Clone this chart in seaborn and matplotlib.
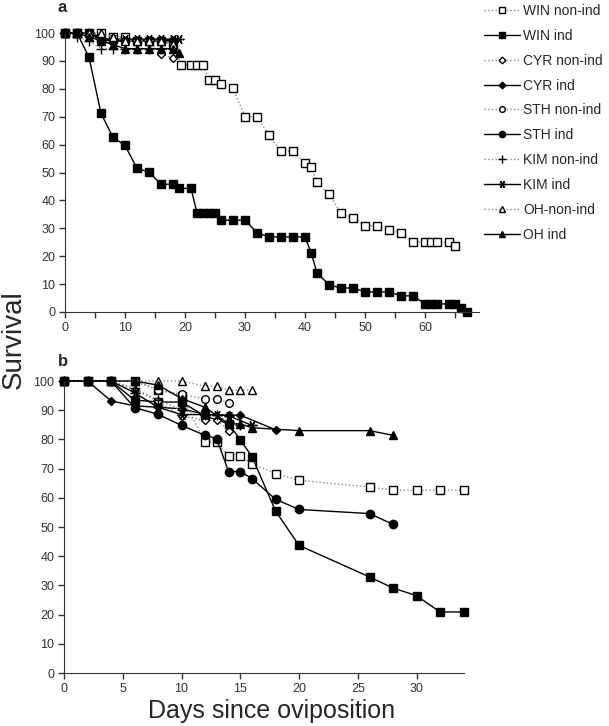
import numpy as np
import pandas as pd
import seaborn as sns
import matplotlib.pyplot as plt
from matplotlib.ticker import MultipleLocator

# ---- panel a data (days, survival %) ----
a_win_non_days = [0, 2, 4, 6, 8, 10, 12, 14, 16, 18, 19.4, 21, 22, 23, 24, 25, 26, 28, 30, 32, 34, 36, 38,
                  40, 41, 42, 44, 46, 48, 50, 52, 54, 56, 58, 60, 61, 62, 64, 65]
a_win_non = [100, 100, 100, 100, 98.6, 98.6, 97.2, 97.2, 97.2, 95.8, 88.5, 88.5, 88.5, 88.5, 83.2, 83.2, 81.7,
             80.2, 70, 70, 63.3, 57.7, 57.7, 53.3, 51.8, 46.5, 42.2, 35.4, 33.7, 30.9, 30.9, 29.5, 28.2,
             25.2, 25.2, 25.2, 25.2, 25.2, 23.7]
a_win_ind_days = [0, 2, 4, 6, 8, 10, 12, 14, 16, 18, 19, 21, 22, 23, 24, 25, 26, 28, 30, 32, 34, 36, 38, 40,
                  41, 42, 44, 46, 48, 50, 52, 54, 56, 58, 60, 61, 62, 64, 65, 66, 67]
a_win_ind = [100, 100, 91.3, 71.2, 62.6, 59.7, 51.5, 50.1, 45.8, 45.8, 44.3, 44.3, 35.6, 35.6, 35.6, 35.6,
             32.9, 32.9, 32.9, 28.4, 26.9, 26.9, 26.9, 26.9, 21.3, 14.1, 9.7, 8.6, 8.6, 7.2, 7.2, 7.2,
             5.8, 5.8, 2.9, 2.9, 2.9, 2.9, 2.9, 1.4, 0]
a_short_days = [0, 2, 4, 6, 8, 10, 12, 14, 16, 18]
a_cyr_non = [100, 100, 100, 98.6, 97.2, 97.2, 97.2, 97.2, 92.6, 91.0]
a_cyr_ind = [100, 100, 100, 98.6, 97.2, 97.2, 97.2, 97.2, 97.2, 97.2]
a_sth_non = [100, 100, 100, 98.6, 97.2, 97.2, 97.2, 97.2, 97.2, 95.8]
a_sth_ind = [100, 100, 100, 97.3, 97.3, 97.3, 97.3, 97.3, 97.3, 97.3]
a_kim_non = [100, 98.6, 97.0, 94.4, 94.4, 94.4, 94.4, 94.4, 94.4, 94.4]
a_kim_ind_days = [0, 2, 4, 6, 8, 10, 12, 14, 16, 18, 19]
a_kim_ind = [100, 100, 100, 97.8, 97.8, 97.8, 97.8, 97.8, 97.8, 97.8, 97.8]
a_oh_non = [100, 100, 100, 100, 98.6, 97.3, 97.3, 97.3, 97.3, 95.9]
a_oh_ind_days = [0, 2, 4, 6, 8, 10, 12, 14, 16, 18, 19]
a_oh_ind = [100, 100, 98.6, 97.2, 95.8, 94.4, 94.4, 94.4, 94.4, 94.4, 93.0]

# ---- panel b data ----
b_win_non_days = [0, 2, 4, 6, 8, 10, 12, 13, 14, 15, 16, 18, 20, 26, 28, 30, 32, 34]
b_win_non = [100, 100, 100, 100, 97, 95, 79.1, 79.1, 74.3, 74.3, 71.7, 68.3, 66.0, 63.7, 62.6, 62.6, 62.6, 62.6]
b_win_ind_days = [0, 2, 4, 6, 8, 10, 12, 14, 15, 16, 18, 20, 26, 28, 30, 32, 34]
b_win_ind = [100, 100, 100, 93.5, 92.8, 92.8, 88.0, 85.4, 79.9, 74.1, 55.5, 43.7, 32.9, 29.1, 26.5, 20.9, 20.9]
b_cyr_non_days = [0, 2, 4, 6, 8, 10, 12, 13, 14]
b_cyr_non = [100, 100, 100, 97, 93, 88, 86.5, 86.5, 83]
b_cyr_ind_days = [0, 2, 4, 6, 8, 10, 12, 14, 15, 18]
b_cyr_ind = [100, 100, 93.2, 91.5, 91.0, 90.5, 88.5, 88.3, 88.3, 83.3]
b_sth_non_days = [0, 2, 4, 6, 8, 10, 12, 13, 14]
b_sth_non = [100, 100, 100, 100, 97, 95.4, 93.9, 93.9, 92.6]
b_sth_ind_days = [0, 2, 4, 6, 8, 10, 12, 13, 14, 15, 16, 18, 20, 26, 28]
b_sth_ind = [100, 100, 100, 90.9, 88.6, 84.8, 81.4, 80.3, 69.0, 69.0, 66.6, 59.5, 56.0, 54.6, 50.9]
b_kim_non_days = [0, 2, 4, 6, 8, 10, 12, 13, 14, 15]
b_kim_non = [100, 100, 100, 97.5, 93.5, 90, 88.5, 88.5, 86, 85]
b_kim_ind_days = [0, 2, 4, 6, 8, 10, 12, 13, 14, 16]
b_kim_ind = [100, 100, 100, 96, 91, 88.5, 88.5, 88.5, 88.1, 84.8]
b_oh_non_days = [0, 2, 4, 6, 8, 10, 12, 13, 14, 15, 16]
b_oh_non = [100, 100, 100, 100, 100, 100, 98.2, 98.2, 96.9, 96.9, 96.9]
b_oh_ind_days = [0, 2, 4, 6, 8, 10, 12, 14, 15, 16, 20, 26, 28]
b_oh_ind = [100, 100, 100, 100, 98.6, 94.0, 91.0, 85.3, 85.3, 84.0, 83.0, 83.0, 81.4]

labels = ['WIN non-ind', 'WIN ind', 'CYR non-ind', 'CYR ind', 'STH non-ind', 'STH ind',
          'KIM non-ind', 'KIM ind', 'OH-non-ind', 'OH ind']

sns.set_style('ticks')
plt.rcParams['font.family'] = ['Liberation Sans', 'DejaVu Sans']
plt.rcParams['axes.edgecolor'] = '#333333'
plt.rcParams['xtick.color'] = '#333333'
plt.rcParams['ytick.color'] = '#333333'

star = (6, 2, 90)
styles = [
    dict(marker='s', ls=':', color='#888888', mfc='white', ms=5.5),
    dict(marker='s', ls='-', color='black', mfc='black', ms=6),
    dict(marker='D', ls=':', color='#888888', mfc='white', ms=4.5),
    dict(marker='D', ls='-', color='black', mfc='black', ms=4.5),
    dict(marker='o', ls=':', color='#888888', mfc='white', ms=5.5),
    dict(marker='o', ls='-', color='black', mfc='black', ms=6),
    dict(marker='+', ls=':', color='#888888', mfc='black', ms=7),
    dict(marker=star, ls='-', color='black', mfc='black', ms=7),
    dict(marker='^', ls=':', color='#888888', mfc='white', ms=6),
    dict(marker='^', ls='-', color='black', mfc='black', ms=6),
]

fig = plt.figure(figsize=(6.09, 7.26), dpi=100)
ax_a = fig.add_axes([65 / 609, 1 - 312 / 726, 414 / 609, 279 / 726])
ax_b = fig.add_axes([64 / 609, 1 - 673 / 726, 399.5 / 609, 292 / 726])

series_a = [(a_win_non_days, a_win_non), (a_win_ind_days, a_win_ind),
            (a_short_days, a_cyr_non), (a_short_days, a_cyr_ind),
            (a_short_days, a_sth_non), (a_short_days, a_sth_ind),
            (a_short_days, a_kim_non), (a_kim_ind_days, a_kim_ind),
            (a_short_days, a_oh_non), (a_oh_ind_days, a_oh_ind)]
series_b = [(b_win_non_days, b_win_non), (b_win_ind_days, b_win_ind),
            (b_cyr_non_days, b_cyr_non), (b_cyr_ind_days, b_cyr_ind),
            (b_sth_non_days, b_sth_non), (b_sth_ind_days, b_sth_ind),
            (b_kim_non_days, b_kim_non), (b_kim_ind_days, b_kim_ind),
            (b_oh_non_days, b_oh_non), (b_oh_ind_days, b_oh_ind)]

for ax, series in [(ax_a, series_a), (ax_b, series_b)]:
    for i, (d, v) in enumerate(series):
        st = styles[i]
        df = pd.DataFrame({'day': d, 'surv': v})
        sns.lineplot(data=df, x='day', y='surv', ax=ax, label=labels[i],
                     color=st['color'], linestyle=st['ls'], linewidth=1.0,
                     marker=st['marker'], markersize=st['ms'],
                     markerfacecolor=st['mfc'], markeredgecolor='black',
                     markeredgewidth=1.0, clip_on=False, legend=False)
    ax.set_ylim(0, 100)
    ax.yaxis.set_major_locator(MultipleLocator(10))
    ax.set_xlabel('')
    ax.set_ylabel('')
    ax.tick_params(direction='out', length=4, width=1, labelsize=9, pad=3)
    ax.tick_params(which='minor', direction='out', length=4, width=1)
    sns.despine(ax=ax)

ax_a.set_xlim(0, 69)
ax_a.xaxis.set_major_locator(MultipleLocator(10))
ax_a.xaxis.set_minor_locator(MultipleLocator(5))
ax_b.set_xlim(0, 34)
ax_b.xaxis.set_major_locator(MultipleLocator(5))

handles, labs = ax_a.get_legend_handles_labels()
fig.legend(handles, labs, loc='upper left', bbox_to_anchor=(484 / 609, 1 - 4 / 726),
           frameon=False, fontsize=10, handlelength=2.6, handletextpad=0.2,
           labelspacing=0.78, markerscale=0.75, borderaxespad=0, borderpad=0)

fig.text(62 / 609, 1 - 7 / 726, 'a', fontsize=12, fontweight='bold', ha='center', va='center')
fig.text(63 / 609, 1 - 361 / 726, 'b', fontsize=12, fontweight='bold', ha='center', va='center')
fig.text(14 / 609, 1 - 340 / 726, 'Survival', fontsize=20, rotation=90, ha='center', va='center')
fig.text(272 / 609, 1 - 711 / 726, 'Days since oviposition', fontsize=18, ha='center', va='center')

fig.savefig('out.png', dpi=100)
